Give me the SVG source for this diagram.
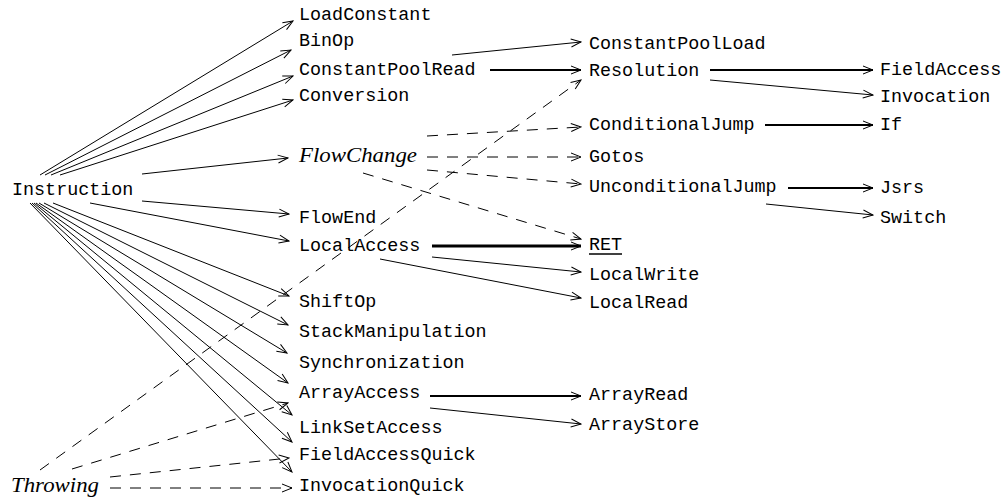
<svg xmlns="http://www.w3.org/2000/svg" width="1004" height="500" viewBox="0 0 1004 500">
<style>
.t{font-family:"Liberation Mono",monospace;font-size:18.4px;fill:#000}
.i{font-family:"Liberation Serif",serif;font-style:italic;font-size:21px;fill:#000}
.e{fill:none;stroke:#000;stroke-width:1;marker-end:url(#a)}
.k{stroke-width:2}
.kk{stroke-width:3}
.d{stroke-dasharray:11 9}
</style>
<defs>
<marker id="a" markerUnits="userSpaceOnUse" markerWidth="12" markerHeight="10" viewBox="0 0 12 10" refX="11" refY="5" orient="auto">
<path d="M1,1 L11,5 L1,9" fill="none" stroke="#000" stroke-width="1"/>
</marker>
</defs>
<rect width="1004" height="500" fill="#fff"/>
<g id="connectors">
<path class="e" d="M40,175 L293,21"/>
<path class="e" d="M45,175 L291,50"/>
<path class="e" d="M51,175 L293,76"/>
<path class="e" d="M60,175 L293,100"/>
<path class="e" d="M142,174 L288,158"/>
<path class="e" d="M142,201 L289,214"/>
<path class="e" d="M90,203 L289,241"/>
<path class="e" d="M53,203 L289,296"/>
<path class="e" d="M44,203 L288,325"/>
<path class="e" d="M39,203 L287,353"/>
<path class="e" d="M36,203 L288,383"/>
<path class="e" d="M34,203 L292,415"/>
<path class="e" d="M32,203 L292,442"/>
<path class="e" d="M30,203 L292,472"/>
<path class="e d" d="M40,470 L581,80"/>
<path class="e d" d="M72,469 L288,403"/>
<path class="e d" d="M110,477 L289,458"/>
<path class="e d" d="M110,488 L292,488"/>
<path class="e" d="M452,55 L581,42"/>
<path class="e k" d="M490,70 L581,70"/>
<path class="e d" d="M427,136 L581,127"/>
<path class="e d" d="M427,157 L581,157"/>
<path class="e d" d="M427,170 L581,184"/>
<path class="e d" d="M363,173 L581,239"/>
<path class="e kk" d="M432,246 L581,246"/>
<path class="e" d="M432,257 L581,272"/>
<path class="e" d="M380,259 L581,298"/>
<path class="e k" d="M430,396 L581,396"/>
<path class="e" d="M430,408 L581,424"/>
<path class="e k" d="M710,70 L873,70"/>
<path class="e" d="M710,80 L873,95"/>
<path class="e k" d="M765,125 L873,125"/>
<path class="e k" d="M788,188 L873,188"/>
<path class="e" d="M766,204 L873,215"/>
</g>
<g id="Instruction"><text class="t" x="12" y="195">Instruction</text></g>
<g id="Throwing"><text class="i" x="11" y="492" textLength="88" lengthAdjust="spacingAndGlyphs">Throwing</text></g>
<g id="LoadConstant"><text class="t" x="299" y="20">LoadConstant</text></g>
<g id="BinOp"><text class="t" x="299" y="46">BinOp</text></g>
<g id="ConstantPoolRead"><text class="t" x="299" y="75">ConstantPoolRead</text></g>
<g id="Conversion"><text class="t" x="299" y="101">Conversion</text></g>
<g id="FlowChange"><text class="i" x="299" y="162" textLength="118" lengthAdjust="spacingAndGlyphs">FlowChange</text></g>
<g id="FlowEnd"><text class="t" x="299" y="223">FlowEnd</text></g>
<g id="LocalAccess"><text class="t" x="299" y="251">LocalAccess</text></g>
<g id="ShiftOp"><text class="t" x="299" y="307">ShiftOp</text></g>
<g id="StackManipulation"><text class="t" x="299" y="337">StackManipulation</text></g>
<g id="Synchronization"><text class="t" x="299" y="368">Synchronization</text></g>
<g id="ArrayAccess"><text class="t" x="299" y="398">ArrayAccess</text></g>
<g id="LinkSetAccess"><text class="t" x="299" y="433">LinkSetAccess</text></g>
<g id="FieldAccessQuick"><text class="t" x="299" y="460">FieldAccessQuick</text></g>
<g id="InvocationQuick"><text class="t" x="299" y="491">InvocationQuick</text></g>
<g id="ConstantPoolLoad"><text class="t" x="589" y="49">ConstantPoolLoad</text></g>
<g id="Resolution"><text class="t" x="589" y="76">Resolution</text></g>
<g id="ConditionalJump"><text class="t" x="589" y="130">ConditionalJump</text></g>
<g id="Gotos"><text class="t" x="589" y="162">Gotos</text></g>
<g id="UnconditionalJump"><text class="t" x="589" y="192">UnconditionalJump</text></g>
<g id="RET"><text class="t" x="589" y="250">RET</text><line x1="589" y1="254" x2="622" y2="254" stroke="#000" stroke-width="1.5"/></g>
<g id="LocalWrite"><text class="t" x="589" y="280">LocalWrite</text></g>
<g id="LocalRead"><text class="t" x="589" y="308">LocalRead</text></g>
<g id="ArrayRead"><text class="t" x="589" y="400">ArrayRead</text></g>
<g id="ArrayStore"><text class="t" x="589" y="430">ArrayStore</text></g>
<g id="FieldAccess"><text class="t" x="880" y="75">FieldAccess</text></g>
<g id="Invocation"><text class="t" x="880" y="102">Invocation</text></g>
<g id="If"><text class="t" x="880" y="130">If</text></g>
<g id="Jsrs"><text class="t" x="880" y="193">Jsrs</text></g>
<g id="Switch"><text class="t" x="880" y="223">Switch</text></g>
</svg>
